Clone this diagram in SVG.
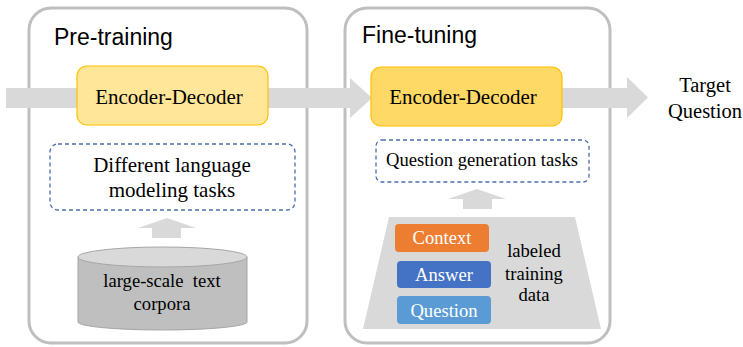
<svg xmlns="http://www.w3.org/2000/svg" width="743" height="347" viewBox="0 0 743 347">
<style>
.panel{fill:#fff;stroke:#bfbfbf;stroke-width:3}
.title{font-family:"Liberation Sans","Noto Sans",sans-serif;font-size:23px;fill:#000}
.tr{font-family:'Liberation Serif','DejaVu Serif',serif;font-size:21px;fill:#000}
.sm{font-size:18.6px}
.wt{font-family:'Liberation Serif','DejaVu Serif',serif;font-size:18.6px;fill:#fff}
.dash{fill:#fff;stroke:#4a6eb0;stroke-width:1.3;stroke-dasharray:4 3}
.arr{fill:#d9d9d9}
</style>
<rect class="panel" x="29" y="8" width="278" height="335" rx="22"/>
<rect class="panel" x="345" y="8" width="265" height="335" rx="22"/>
<g id="connectors">
<polygon class="arr" points="6,88 350,88 350,78 372,98 350,118 350,108 6,108"/>
<polygon class="arr" points="540,88 627,88 627,77 648,97.5 627,118 627,108 540,108"/>
<polygon class="arr" points="152,238 152,228 138,228 167,218 196,228 181,228 181,238"/>
<polygon class="arr" points="463,209 463,199 448,199 477,189 506,199 492,199 492,209"/>
</g>
<g id="pretraining">
<text class="title" x="54" y="45">Pre-training</text>
</g>
<g id="finetuning">
<text class="title" x="362" y="43">Fine-tuning</text>
</g>
<g id="enc1">
<rect x="77" y="66" width="191" height="59" rx="10" fill="#ffe699" stroke="#ffc000" stroke-width="1.2"/>
<text class="tr" x="169" y="104" text-anchor="middle">Encoder-Decoder</text>
</g>
<g id="enc2">
<rect x="371" y="67" width="191" height="59" rx="10" fill="#ffd966" stroke="#ffc000" stroke-width="1.2"/>
<text class="tr" x="463" y="104" text-anchor="middle">Encoder-Decoder</text>
</g>
<g id="tasks1">
<rect class="dash" x="50" y="144" width="245" height="66" rx="8"/>
<text class="tr" x="172" y="172" text-anchor="middle">Different language</text>
<text class="tr" x="172" y="197" text-anchor="middle">modeling tasks</text>
</g>
<g id="tasks2">
<rect class="dash" x="376" y="140" width="213" height="42" rx="6"/>
<text class="tr sm" x="482" y="166" text-anchor="middle">Question generation tasks</text>
</g>
<g id="corpora">
<path d="M78,257 L78,322 A84.5,8 0 0 0 247,322 L247,257 Z" fill="#bfbfbf" stroke="#a6a6a6" stroke-width="1"/>
<ellipse cx="162.5" cy="257" rx="84.5" ry="10" fill="#d9d9d9" stroke="#a6a6a6" stroke-width="1"/>
<text class="tr sm" x="162" y="287" text-anchor="middle" xml:space="preserve">large-scale  text</text>
<text class="tr sm" x="162" y="310" text-anchor="middle">corpora</text>
</g>
<g id="training-data">
<polygon points="389,217 575,217 601,329 363,329" fill="#d9d9d9"/>
<text class="tr sm" x="534" y="257" text-anchor="middle">labeled</text>
<text class="tr sm" x="534" y="280" text-anchor="middle">training</text>
<text class="tr sm" x="534" y="301" text-anchor="middle">data</text>
</g>
<g id="context">
<rect x="395" y="224" width="94" height="28" rx="4" fill="#ed7d31"/>
<text class="wt" x="442" y="244" text-anchor="middle">Context</text>
</g>
<g id="answer">
<rect x="397" y="261" width="94" height="27" rx="4" fill="#4472c4"/>
<text class="wt" x="444" y="281" text-anchor="middle">Answer</text>
</g>
<g id="question">
<rect x="397" y="296" width="94" height="28" rx="4" fill="#5b9bd5"/>
<text class="wt" x="444" y="317" text-anchor="middle">Question</text>
</g>
<g id="target">
<text class="tr" x="705" y="92" text-anchor="middle" style="font-size:20.5px">Target</text>
<text class="tr" x="705" y="118" text-anchor="middle" style="font-size:20.5px">Question</text>
</g>
</svg>
